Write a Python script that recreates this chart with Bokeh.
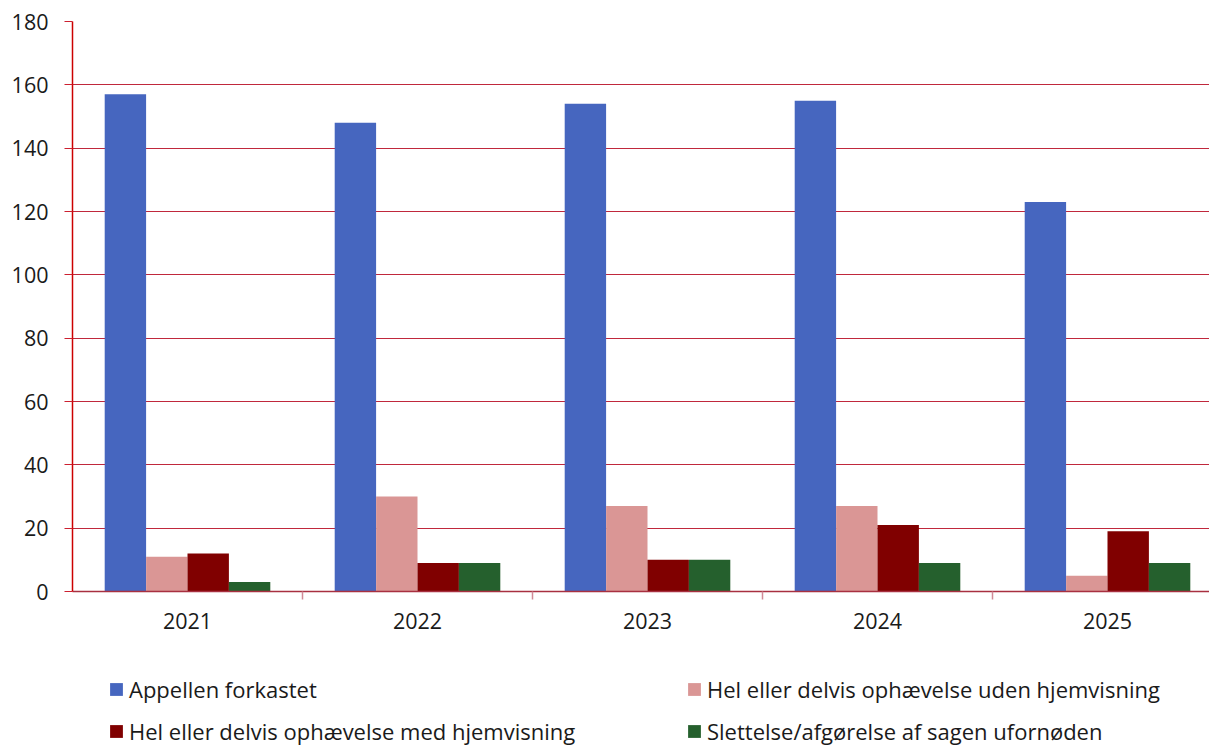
from bokeh.plotting import figure
from bokeh.layouts import column
from bokeh.models import (ColumnDataSource, Legend, LegendItem, FixedTicker, Range1d)
from bokeh.embed import file_html
from bokeh.resources import INLINE

years = ["2021", "2022", "2023", "2024", "2025"]
series_names = [
    "Appellen forkastet",
    "Hel eller delvis ophævelse uden hjemvisning",
    "Hel eller delvis ophævelse med hjemvisning",
    "Slettelse/afgørelse af sagen ufornøden",
]
appellen = [157, 148, 154, 155, 123]
uden_hjemvisning = [11, 30, 27, 27, 5]
med_hjemvisning = [12, 9, 10, 21, 19]
slettelse = [3, 9, 10, 9, 9]
colors = ["#4666bf", "#da9695", "#800000", "#25602d"]

values = [appellen, uden_hjemvisning, med_hjemvisning, slettelse]
offsets = [-0.27, -0.09, 0.09, 0.27]
bar_w = 0.18
centers = [i + 0.5 for i in range(len(years))]

FONT = "Open Sans"
TXT = "#1a1a1a"

p = figure(width=1209, height=650, output_backend="svg", toolbar_location=None,
           x_range=Range1d(0, 1137 / 230), y_range=Range1d(0, 180),
           min_border_left=72, min_border_right=0, min_border_top=21,
           min_border_bottom=59, outline_line_color=None)

for vals, off, col in zip(values, offsets, colors):
    src = ColumnDataSource(dict(x=[c + off for c in centers], top=vals))
    p.vbar(x="x", top="top", width=bar_w, source=src, fill_color=col, line_color=None)

# y axis
p.yaxis.ticker = FixedTicker(ticks=list(range(0, 181, 20)))
p.yaxis.axis_line_color = "#cc0000"
p.yaxis.axis_line_width = 1.5
p.yaxis.major_tick_line_color = "#cc2030"
p.yaxis.major_tick_out = 8
p.yaxis.major_tick_in = 0
p.yaxis.minor_tick_line_color = None
p.yaxis.major_label_text_font = FONT
p.yaxis.major_label_text_font_size = "21.5px"
p.yaxis.major_label_text_color = TXT
p.yaxis.major_label_standoff = 16

# x axis
p.xaxis.ticker = FixedTicker(ticks=centers, minor_ticks=[1, 2, 3, 4])
p.xaxis.major_label_overrides = {c: y for c, y in zip(centers, years)}
p.xaxis.major_tick_out = 0
p.xaxis.major_tick_in = 0
p.xaxis.minor_tick_out = 8
p.xaxis.minor_tick_in = 0
p.xaxis.minor_tick_line_color = "#d08a96"
p.xaxis.minor_tick_line_width = 1.5
p.xaxis.axis_line_color = "#a83040"
p.xaxis.axis_line_width = 1.5
p.xaxis.major_label_text_font = FONT
p.xaxis.major_label_text_font_size = "21.5px"
p.xaxis.major_label_text_color = TXT
p.xaxis.major_label_standoff = 13

p.xgrid.grid_line_color = None
p.ygrid.ticker = FixedTicker(ticks=list(range(20, 181, 20)))
p.ygrid.grid_line_color = "#c0283c"
p.ygrid.grid_line_width = 1

# legend figure below the chart (its frame is aligned with the chart's frame)
lf = figure(width=1209, height=101, output_backend="svg", toolbar_location=None,
            x_range=Range1d(0, 1), y_range=Range1d(0, 1),
            min_border_left=72, min_border_right=0, min_border_top=0,
            min_border_bottom=0, outline_line_color=None)
lf.axis.visible = False
lf.grid.visible = False

leg_renderers = []
for col in colors:
    src = ColumnDataSource(dict(x=[-10.0], top=[0.0]))
    r = lf.vbar(x="x", top="top", width=0.1, source=src, fill_color=col, line_color=None)
    leg_renderers.append(r)

items = [LegendItem(label=n, renderers=[r]) for n, r in zip(series_names, leg_renderers)]

def make_legend(its, loc):
    return Legend(items=its, orientation="horizontal", location=loc,
                  glyph_width=16, glyph_height=16, label_standoff=5,
                  label_width=470, label_height=24, spacing=87,
                  label_text_font=FONT, label_text_font_size="22px",
                  label_text_color=TXT,
                  border_line_color=None, background_fill_alpha=0,
                  padding=0, margin=0)

lf.add_layout(make_legend([items[0], items[1]], (36, 47)))
lf.add_layout(make_legend([items[2], items[3]], (36, 5)))

layout = column(p, lf, spacing=0)
open("out.html", "w").write(file_html(layout, INLINE))
